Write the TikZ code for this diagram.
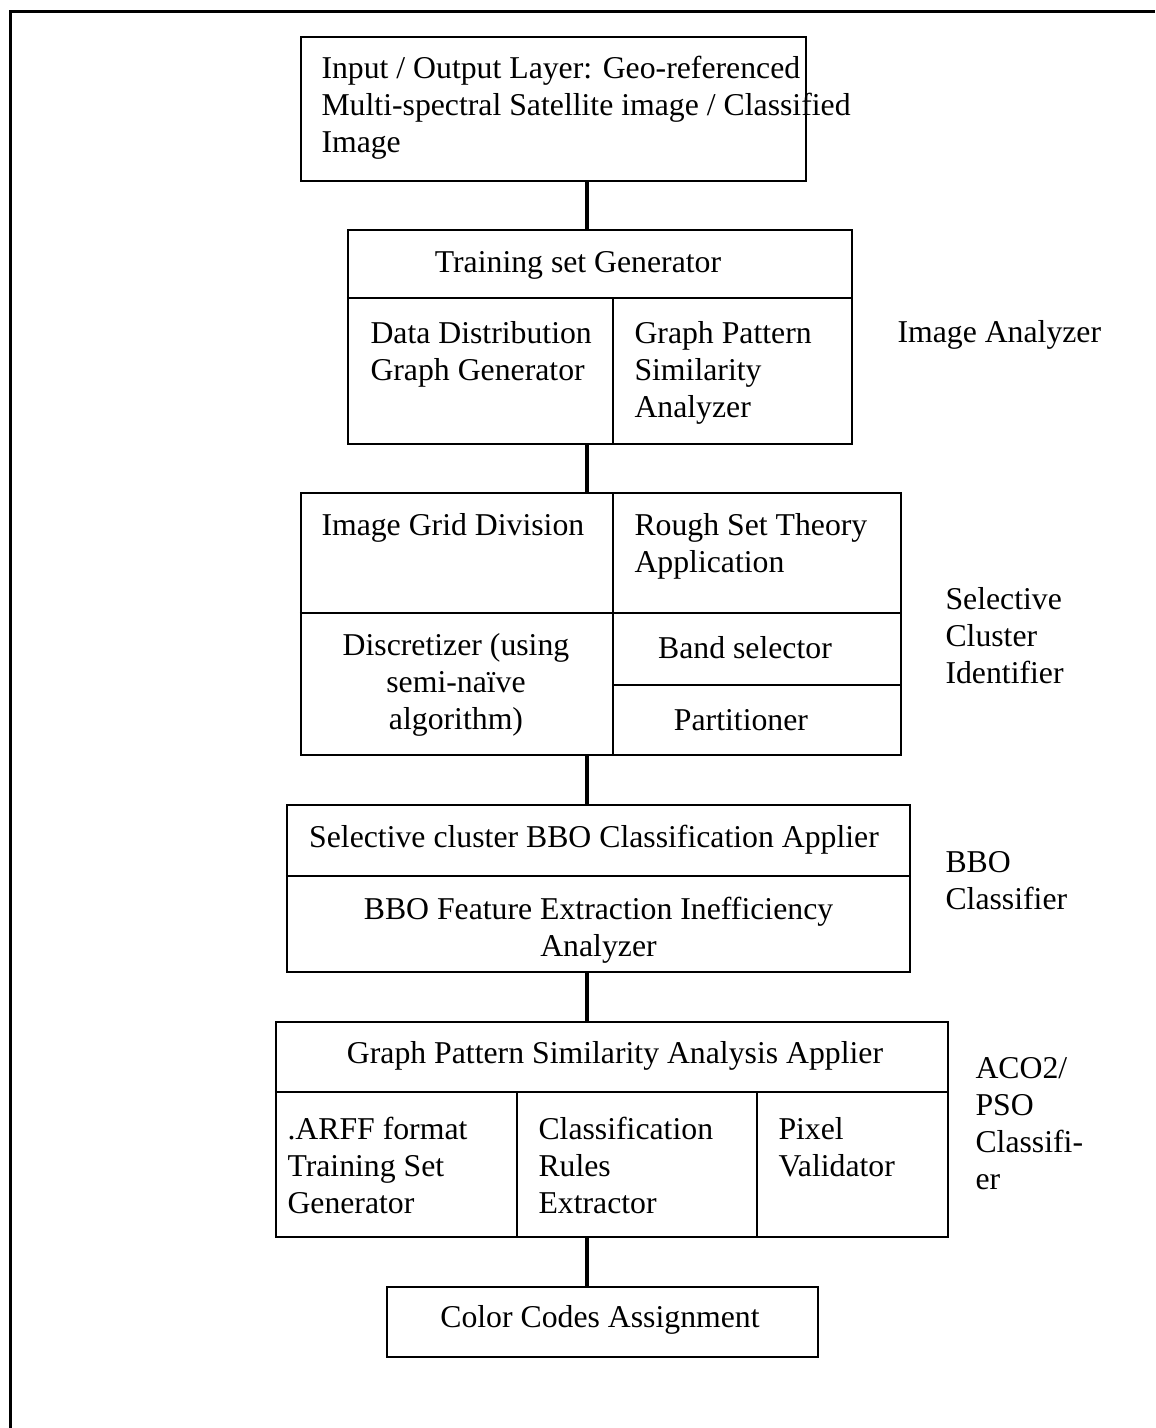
\documentclass[tikz,border=0pt]{standalone}
\usepackage{fontspec}
\setmainfont{Liberation Serif}
\begin{document}
\begin{tikzpicture}[x=0.4pt,y=-0.4pt,
  every node/.style={inner sep=0pt},
  lbl/.style={font=\fontsize{12.7}{14.8}\selectfont, yshift=-1.6pt},
  block/.style={draw, line width=0.8pt, rectangle},
  divider/.style={line width=0.6pt},
  link/.style={line width=1.6pt},
  frameline/.style={line width=1.2pt},
  txt/.style={lbl, align=left, anchor=west},
  ctxt/.style={lbl, align=center}]
\useasboundingbox (0,0) rectangle (1155,1428);

% page frame (top and left edges)
\draw[frameline] (10,1428) -- (10,11) -- (1155,11);

% main blocks
\node[block, minimum width=202pt, minimum height=57.6pt] (io) at (553.5,109) {};
\node[block, minimum width=201.6pt, minimum height=85.6pt] (ia) at (600,337) {};
\node[block, minimum width=240pt, minimum height=104.8pt] (sc) at (601,624) {};
\node[block, minimum width=249.2pt, minimum height=66.8pt] (bbo) at (598.5,888.5) {};
\node[block, minimum width=268.8pt, minimum height=86pt] (aco) at (612,1129.5) {};
\node[block, minimum width=172.4pt, minimum height=28pt] (cc) at (602.5,1322) {};

% vertical spine of connectors
\coordinate (spine) at (587,0);
\draw[link] (io.south -| spine) -- (ia.north -| spine);
\draw[link] (ia.south -| spine) -- (sc.north -| spine);
\draw[link] (sc.south -| spine) -- (bbo.north -| spine);
\draw[link] (bbo.south -| spine) -- (aco.north -| spine);
\draw[link] (aco.south -| spine) -- (cc.north -| spine);

% Input / Output layer
\node[txt] (iotext) at (321,104) {Input / Output Layer: Geo-referenced\\Multi-spectral Satellite image / Classified\\Image};

% Image Analyzer
\draw[divider] (ia.west |- 0,298) -- (ia.east |- 0,298);
\draw[divider] (613,298) -- (ia.south -| 613,0);
\node[ctxt] (tsg) at (578,261) {Training set Generator};
\node[txt] (ddg) at (370,350) {Data Distribution\\Graph Generator};
\node[txt] (gps) at (634,369) {Graph Pattern\\Similarity\\Analyzer};
\node[txt] (lia) at (897,331) {Image Analyzer};

% Selective Cluster Identifier
\draw[divider] (sc.north -| 613,0) -- (sc.south -| 613,0);
\draw[divider] (sc.west |- 0,613) -- (sc.east |- 0,613);
\draw[divider] (613,685) -- (sc.east |- 0,685);
\node[txt] (igd) at (321,524) {Image Grid Division};
\node[txt] (rst) at (634,542) {Rough Set Theory\\Application};
\node[ctxt] (disc) at (456,681) {Discretizer (using\\semi-naïve\\algorithm)};
\node[ctxt] (band) at (745,644) {Band selector};
\node[ctxt] (part) at (741,716) {Partitioner};
\node[txt] (lsc) at (945,632) {Selective\\Cluster\\Identifier};

% BBO Classifier
\draw[divider] (bbo.west |- 0,876) -- (bbo.east |- 0,876);
\node[ctxt] (scb) at (594,836) {Selective cluster BBO Classification Applier};
\node[ctxt] (bfe) at (598.5,926) {BBO Feature Extraction Inefficiency\\Analyzer};
\node[txt] (lbbo) at (945,877) {BBO\\Classifier};

% ACO2/PSO Classifier
\draw[divider] (aco.west |- 0,1092) -- (aco.east |- 0,1092);
\draw[divider] (517,1092) -- (aco.south -| 517,0);
\draw[divider] (757,1092) -- (aco.south -| 757,0);
\node[ctxt] (gpa) at (615,1052) {Graph Pattern Similarity Analysis Applier};
\node[txt] (arff) at (287,1161) {.ARFF format\\Training Set\\Generator};
\node[txt] (cre) at (538,1161) {Classification\\Rules\\Extractor};
\node[txt] (pv) at (778,1143) {Pixel\\Validator};
\node[txt] (laco) at (975,1120) {ACO2/\\PSO\\Classifi-\\er};

% Color codes
\node[ctxt] (cctext) at (600,1316) {Color Codes Assignment};
\end{tikzpicture}
\end{document}
